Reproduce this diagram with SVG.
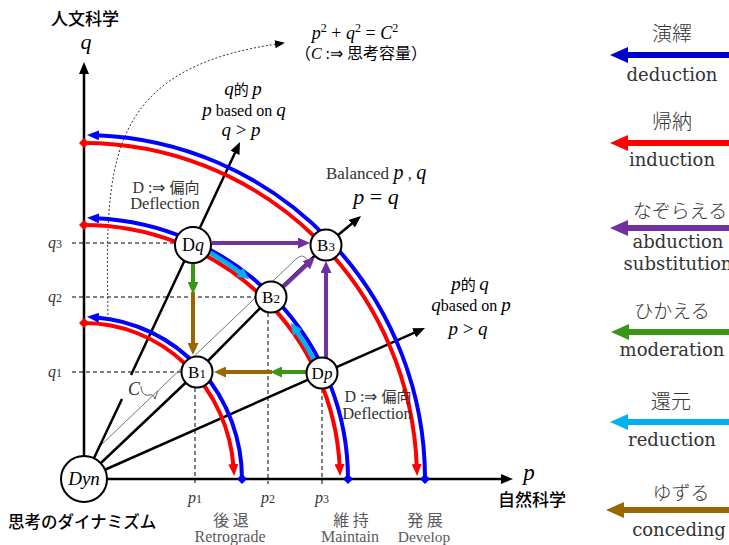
<svg xmlns="http://www.w3.org/2000/svg" width="729" height="545" viewBox="0 0 729 545">
<style>
.ser{font-family:"Liberation Serif","Times New Roman",serif;}
.dser{font-family:"DejaVu Serif",serif;}
.jp{font-family:"Noto Sans CJK JP",sans-serif;}
.it{font-style:italic;}
.node{fill:#fff;stroke:#000;stroke-width:2;}
.ray{fill:none;stroke:#000;stroke-width:2.5;}
.guide{fill:none;stroke:#000;stroke-width:1;stroke-dasharray:4 3;}
.red{fill:none;stroke:#ff0000;stroke-width:4;marker-start:url(#dm-red);marker-end:url(#ar-red);}
.blue{fill:none;stroke:#0000ff;stroke-width:4;marker-start:url(#dm-blue);marker-end:url(#ar-blue);}
.pur{fill:none;stroke:#7030a0;stroke-width:4;marker-end:url(#ar-pur);}
.grn{fill:none;stroke:#3a9616;stroke-width:4;marker-end:url(#ar-grn);}
.brn{fill:none;stroke:#996600;stroke-width:4;marker-end:url(#ar-brn);}
.cyn{fill:none;stroke:#00b0f0;stroke-width:4.5;marker-end:url(#ar-cyn);}
.lg{fill:none;stroke-width:6;}
.gray{fill:#5a5a5a;}
.dk{fill:#333;}
</style>
<defs>
<marker id="ar-black" markerUnits="userSpaceOnUse" markerWidth="12" markerHeight="10" viewBox="0 0 12 10" refX="3" refY="5" orient="auto"><path d="M0,0L12,5L0,10z" fill="#000"/></marker>
<marker id="ar-small" markerUnits="userSpaceOnUse" markerWidth="10" markerHeight="8" viewBox="0 0 10 8" refX="2" refY="4" orient="auto"><path d="M0,0L10,4L0,8z" fill="#000"/></marker>
<marker id="ar-red" markerUnits="userSpaceOnUse" markerWidth="12" markerHeight="10" viewBox="0 0 12 10" refX="3" refY="5" orient="auto"><path d="M0,0L12,5L0,10z" fill="#ff0000"/></marker>
<marker id="ar-blue" markerUnits="userSpaceOnUse" markerWidth="12" markerHeight="10" viewBox="0 0 12 10" refX="3" refY="5" orient="auto"><path d="M0,0L12,5L0,10z" fill="#0000ff"/></marker>
<marker id="ar-pur" markerUnits="userSpaceOnUse" markerWidth="12" markerHeight="11" viewBox="0 0 12 11" refX="3" refY="5.5" orient="auto"><path d="M0,0L12,5.5L0,11z" fill="#7030a0"/></marker>
<marker id="ar-grn" markerUnits="userSpaceOnUse" markerWidth="12" markerHeight="11" viewBox="0 0 12 11" refX="3" refY="5.5" orient="auto"><path d="M0,0L12,5.5L0,11z" fill="#3a9616"/></marker>
<marker id="ar-brn" markerUnits="userSpaceOnUse" markerWidth="12" markerHeight="11" viewBox="0 0 12 11" refX="3" refY="5.5" orient="auto"><path d="M0,0L12,5.5L0,11z" fill="#996600"/></marker>
<marker id="ar-cyn" markerUnits="userSpaceOnUse" markerWidth="12" markerHeight="11" viewBox="0 0 12 11" refX="3" refY="5.5" orient="auto"><path d="M0,0L12,5.5L0,11z" fill="#00b0f0"/></marker>
<marker id="dm-red" markerUnits="userSpaceOnUse" markerWidth="10" markerHeight="10" viewBox="0 0 10 10" refX="5" refY="5" orient="auto"><path d="M5,0L10,5L5,10L0,5z" fill="#ff0000"/></marker>
<marker id="dm-blue" markerUnits="userSpaceOnUse" markerWidth="10" markerHeight="10" viewBox="0 0 10 10" refX="5" refY="5" orient="auto"><path d="M5,0L10,5L5,10L0,5z" fill="#0000ff"/></marker>
<marker id="lg-dd" markerUnits="userSpaceOnUse" markerWidth="18" markerHeight="16" viewBox="0 0 18 16" refX="4" refY="8" orient="auto"><path d="M0,0L18,8L0,16z" fill="#0000cc"/></marker>
<marker id="lg-in" markerUnits="userSpaceOnUse" markerWidth="18" markerHeight="16" viewBox="0 0 18 16" refX="4" refY="8" orient="auto"><path d="M0,0L18,8L0,16z" fill="#ff0000"/></marker>
<marker id="lg-ab" markerUnits="userSpaceOnUse" markerWidth="18" markerHeight="16" viewBox="0 0 18 16" refX="4" refY="8" orient="auto"><path d="M0,0L18,8L0,16z" fill="#7030a0"/></marker>
<marker id="lg-mo" markerUnits="userSpaceOnUse" markerWidth="18" markerHeight="16" viewBox="0 0 18 16" refX="4" refY="8" orient="auto"><path d="M0,0L18,8L0,16z" fill="#3a9616"/></marker>
<marker id="lg-re" markerUnits="userSpaceOnUse" markerWidth="18" markerHeight="16" viewBox="0 0 18 16" refX="4" refY="8" orient="auto"><path d="M0,0L18,8L0,16z" fill="#00b0f0"/></marker>
<marker id="lg-co" markerUnits="userSpaceOnUse" markerWidth="18" markerHeight="16" viewBox="0 0 18 16" refX="4" refY="8" orient="auto"><path d="M0,0L18,8L0,16z" fill="#996600"/></marker>
</defs>
<rect width="729" height="545" fill="#fff"/>

<g id="guides">
<path class="guide" d="M72,243H176M72,297H256M72,372H182M195,388V484M268,313V484M322,389V484"/>
<path d="M108,319C106,170 100,70 277,44" fill="none" stroke="#333" stroke-width="1" stroke-dasharray="2 2" marker-end="url(#ar-small)"/>
<path d="M100,446L296,259Q303,252 308,261" fill="none" stroke="#666" stroke-width="0.9"/>
<path d="M141,386C141,393 145,396 149,395C152,394 154,396 155,399C156,395 157,393 158,391" fill="none" stroke="#444" stroke-width="0.9"/>
</g>

<g id="connectors">
<path class="ray" d="M84,456V71" marker-end="url(#ar-black)"/>
<path class="ray" d="M107,479H504" marker-end="url(#ar-black)"/>
<path class="ray" d="M94,458L122,399"/>
<path class="ray" d="M131,375L236.2,150.2" marker-end="url(#ar-black)"/>
<path class="ray" d="M84,479L197,372L271,297L326,245L354.1,221.7" marker-end="url(#ar-black)"/>
<path class="ray" d="M84,479L416.8,331.6" marker-end="url(#ar-black)"/>

<path class="red" d="M84,323A150,156 0 0 1 233.56,467"/>
<path class="blue" d="M242,479A158,162 0 0 0 96,317.47"/>
<path class="red" d="M84,225A256,254 0 0 1 339.71,467"/>
<path class="blue" d="M348,479A264,261 0 0 0 96,218.27"/>
<path class="red" d="M84,143A333,336 0 0 1 416.79,467"/>
<path class="blue" d="M425,479A341,344 0 0 0 96,135.21"/>

<path class="cyn" d="M209.6,252.5A259,259 0 0 1 242,273.8"/>
<path class="cyn" d="M313.7,359.4A259,259 0 0 0 295.9,330.1"/>

<path class="pur" d="M212,243H301"/>
<path class="pur" d="M283,287L308.4,263.2"/>
<path class="pur" d="M326,358V270"/>

<path class="brn" d="M193,292V346"/>
<path class="grn" d="M193,264V285"/>
<path class="brn" d="M272,372H223"/>
<path class="grn" d="M306,372H279"/>
</g>

<g id="node-Dyn"><circle class="node" cx="84" cy="479" r="23"/><text x="84" y="485" text-anchor="middle" class="ser it" font-size="19">Dyn</text></g>
<g id="node-Dq"><circle class="node" cx="193" cy="245" r="18"/><text x="193" y="251" text-anchor="middle" class="ser" font-size="18">D<tspan class="it">q</tspan></text></g>
<g id="node-B3"><circle class="node" cx="326" cy="245" r="15.5"/><text x="326" y="251" text-anchor="middle" class="ser" font-size="17">B<tspan font-size="13">3</tspan></text></g>
<g id="node-B2"><circle class="node" cx="271" cy="297" r="15.5"/><text x="271" y="303" text-anchor="middle" class="ser" font-size="17">B<tspan font-size="13">2</tspan></text></g>
<g id="node-B1"><circle class="node" cx="197" cy="372" r="15.5"/><text x="197" y="378" text-anchor="middle" class="ser" font-size="17">B<tspan font-size="13">1</tspan></text></g>
<g id="node-Dp"><circle class="node" cx="322" cy="373" r="15.5"/><text x="322" y="379" text-anchor="middle" class="ser" font-size="17">D<tspan class="it">p</tspan></text></g>

<g id="labels">
<text x="85" y="25" text-anchor="middle" class="jp" font-size="17" font-weight="500">人文科学</text>
<text x="86" y="49" text-anchor="middle" class="ser it" font-size="22">q</text>
<text x="529" y="480" text-anchor="middle" class="ser it" font-size="23">p</text>
<text x="532" y="506" text-anchor="middle" class="jp" font-size="17" font-weight="500">自然科学</text>
<text x="8" y="528" class="jp" font-size="16.5" font-weight="500">思考のダイナミズム</text>

<text x="355" y="39" text-anchor="middle" class="ser" font-size="18"><tspan class="it">p</tspan><tspan font-size="12" dy="-7">2</tspan><tspan dy="7"> + </tspan><tspan class="it">q</tspan><tspan font-size="12" dy="-7">2</tspan><tspan dy="7"> = </tspan><tspan class="it">C</tspan><tspan font-size="12" dy="-7">2</tspan></text>
<text x="361" y="59" text-anchor="middle" font-size="16"><tspan class="jp">（</tspan><tspan class="ser it">C</tspan><tspan class="ser"> :⇒ </tspan><tspan class="jp">思考容量）</tspan></text>

<text x="243" y="95" text-anchor="middle" font-size="19"><tspan class="ser it">q</tspan><tspan class="jp" font-size="15">的 </tspan><tspan class="ser it">p</tspan></text>
<text x="244" y="116" text-anchor="middle" font-size="19"><tspan class="ser it">p</tspan><tspan class="ser" font-size="16"> based on </tspan><tspan class="ser it">q</tspan></text>
<text x="241" y="136" text-anchor="middle" font-size="19" class="ser"><tspan class="it">q</tspan> &gt; <tspan class="it">p</tspan></text>

<text x="376" y="179" text-anchor="middle" class="ser dk" font-size="17">Balanced <tspan class="it" font-size="20" fill="#000">p</tspan> , <tspan class="it" font-size="20" fill="#000">q</tspan></text>
<text x="376" y="204" text-anchor="middle" class="ser" font-size="22"><tspan class="it">p</tspan> = <tspan class="it">q</tspan></text>

<text x="470" y="290" text-anchor="middle" font-size="19"><tspan class="ser it">p</tspan><tspan class="jp" font-size="15">的 </tspan><tspan class="ser it">q</tspan></text>
<text x="471" y="311" text-anchor="middle" font-size="19"><tspan class="ser it">q</tspan><tspan class="ser" font-size="16">based on </tspan><tspan class="ser it">p</tspan></text>
<text x="468" y="335" text-anchor="middle" font-size="19" class="ser"><tspan class="it">p</tspan> &gt;  <tspan class="it">q</tspan></text>

<text x="166" y="193" text-anchor="middle" font-size="16" class="dk"><tspan class="ser">D :⇒ </tspan><tspan class="jp" font-size="15">偏向</tspan></text>
<text x="165" y="209" text-anchor="middle" class="ser dk" font-size="16.5">Deflection</text>
<text x="378" y="402" text-anchor="middle" font-size="16" class="dk"><tspan class="ser">D :⇒ </tspan><tspan class="jp" font-size="15">偏向</tspan></text>
<text x="377" y="419" text-anchor="middle" class="ser dk" font-size="16.5">Deflection</text>

<text x="134" y="395" text-anchor="middle" class="ser it" font-size="18" fill="#333">C</text>

<text x="55" y="248" text-anchor="middle" class="ser it dk" font-size="16">q<tspan font-size="12" font-style="normal">3</tspan></text>
<text x="55" y="302" text-anchor="middle" class="ser it dk" font-size="16">q<tspan font-size="12" font-style="normal">2</tspan></text>
<text x="55" y="377" text-anchor="middle" class="ser it dk" font-size="16">q<tspan font-size="12" font-style="normal">1</tspan></text>
<text x="195" y="503" text-anchor="middle" class="ser it dk" font-size="16">p<tspan font-size="12" font-style="normal">1</tspan></text>
<text x="268" y="503" text-anchor="middle" class="ser it dk" font-size="16">p<tspan font-size="12" font-style="normal">2</tspan></text>
<text x="322" y="503" text-anchor="middle" class="ser it dk" font-size="16">p<tspan font-size="12" font-style="normal">3</tspan></text>

<text x="231" y="526" text-anchor="middle" class="jp gray" font-size="16">後 退</text>
<text x="230" y="542" text-anchor="middle" class="ser gray" font-size="16">Retrograde</text>
<text x="351" y="526" text-anchor="middle" class="jp gray" font-size="16">維 持</text>
<text x="350" y="542" text-anchor="middle" class="ser gray" font-size="16">Maintain</text>
<text x="425" y="526" text-anchor="middle" class="jp gray" font-size="16">発 展</text>
<text x="424" y="542" text-anchor="middle" class="ser gray" font-size="15.5">Develop</text>
</g>

<g id="legend">
<g id="lg-deduction"><text x="672" y="41" text-anchor="middle" class="jp dk" font-size="20" font-weight="300">演繹</text><path class="lg" stroke="#0000cc" d="M729,55H624" marker-end="url(#lg-dd)"/><text x="672" y="81" text-anchor="middle" class="dser dk" font-size="18">deduction</text></g>
<g id="lg-induction"><text x="672" y="129" text-anchor="middle" class="jp dk" font-size="20" font-weight="300">帰納</text><path class="lg" stroke="#ff0000" d="M729,143H624" marker-end="url(#lg-in)"/><text x="672" y="166" text-anchor="middle" class="dser dk" font-size="18">induction</text></g>
<g id="lg-abduction"><text x="680" y="218" text-anchor="middle" class="jp dk" font-size="19" font-weight="300">なぞらえる</text><path class="lg" stroke="#7030a0" d="M729,228H624" marker-end="url(#lg-ab)"/><text x="678" y="248" text-anchor="middle" class="dser dk" font-size="18">abduction</text><text x="678" y="270" text-anchor="middle" class="dser dk" font-size="18">substitution</text></g>
<g id="lg-moderation"><text x="672" y="318" text-anchor="middle" class="jp dk" font-size="19" font-weight="300">ひかえる</text><path class="lg" stroke="#3a9616" d="M729,332H625" marker-end="url(#lg-mo)"/><text x="672" y="356" text-anchor="middle" class="dser dk" font-size="18">moderation</text></g>
<g id="lg-reduction"><text x="671" y="409" text-anchor="middle" class="jp dk" font-size="20" font-weight="300">還元</text><path class="lg" stroke="#00b0f0" d="M729,422H624" marker-end="url(#lg-re)"/><text x="672" y="446" text-anchor="middle" class="dser dk" font-size="18">reduction</text></g>
<g id="lg-conceding"><text x="681" y="500" text-anchor="middle" class="jp dk" font-size="19" font-weight="300">ゆずる</text><path class="lg" stroke="#996600" d="M729,510H620" marker-end="url(#lg-co)"/><text x="679" y="536" text-anchor="middle" class="dser dk" font-size="18">conceding</text></g>
</g>
</svg>
